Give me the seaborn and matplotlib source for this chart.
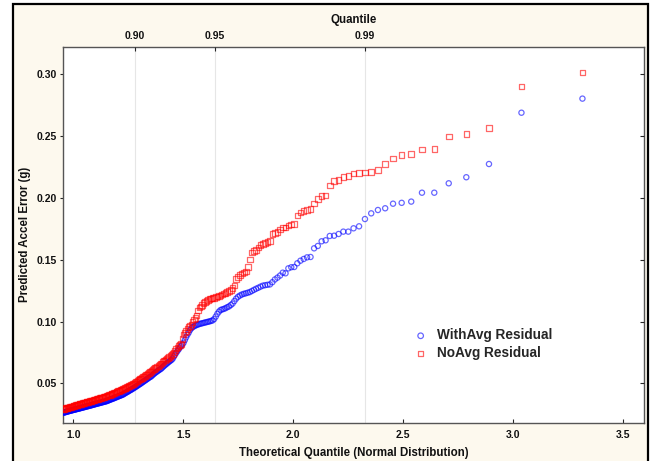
import matplotlib
matplotlib.use("Agg")
import matplotlib.pyplot as plt
import seaborn as sns
import pandas as pd
from statistics import NormalDist
from matplotlib.patches import Rectangle

# ---- data (upper tail of a normal Q-Q plot, sorted descending by rank) ----
N_TOTAL = 1360          # sample size behind the plotting positions
series_names = ["WithAvg Residual", "NoAvg Residual"]

with_avg = [
    0.2803, 0.2689, 0.2274, 0.2167, 0.2118, 0.2042, 0.2042, 0.1970, 0.1960, 0.1953,
    0.1916, 0.1902, 0.1875, 0.1829, 0.1770, 0.1754, 0.1727, 0.1727, 0.1708, 0.1694,
    0.1692, 0.1657, 0.1649, 0.1611, 0.1592, 0.1522, 0.1519, 0.1506, 0.1492, 0.1471,
    0.1441, 0.1439, 0.1430, 0.1390, 0.1395, 0.1372, 0.1355, 0.1340, 0.1318, 0.1300,
    0.1297, 0.1294, 0.1290, 0.1282, 0.1273, 0.1265, 0.1256, 0.1247, 0.1238, 0.1233,
    0.1228, 0.1224, 0.1218, 0.1210, 0.1200, 0.1185, 0.1165, 0.1145, 0.1133, 0.1122,
    0.1116, 0.1108, 0.1102, 0.1098, 0.1093, 0.1080, 0.1062, 0.1040, 0.1020, 0.1009,
    0.1005, 0.1001, 0.0998, 0.0995, 0.0992, 0.0989, 0.0986, 0.0983, 0.0980, 0.0976,
    0.0972, 0.0967, 0.0961, 0.0955, 0.0945, 0.0930, 0.0910, 0.0893, 0.0872, 0.0850,
    0.0828, 0.0815, 0.0803, 0.0790, 0.0775, 0.0762, 0.0748, 0.0733, 0.0717, 0.0700,
    0.0690, 0.0683, 0.0676, 0.0669, 0.0661, 0.0654, 0.0646, 0.0639, 0.0630, 0.0621,
    0.0615, 0.0609, 0.0603, 0.0597, 0.0591, 0.0585, 0.0578, 0.0571, 0.0563, 0.0555,
    0.0551, 0.0546, 0.0540, 0.0534, 0.0529, 0.0523, 0.0518, 0.0512, 0.0507, 0.0501,
    0.0496, 0.0491, 0.0486, 0.0481, 0.0476, 0.0471, 0.0466, 0.0462, 0.0457, 0.0452,
    0.0448, 0.0444, 0.0440, 0.0435, 0.0431, 0.0427, 0.0423, 0.0419, 0.0414, 0.0410,
    0.0407, 0.0404, 0.0401, 0.0399, 0.0396, 0.0393, 0.0390, 0.0388, 0.0385, 0.0382,
    0.0379, 0.0377, 0.0374, 0.0372, 0.0369, 0.0367, 0.0364, 0.0361, 0.0359, 0.0356,
    0.0354, 0.0353, 0.0351, 0.0349, 0.0348, 0.0346, 0.0344, 0.0343, 0.0341, 0.0339,
    0.0338, 0.0336, 0.0335, 0.0333, 0.0331, 0.0330, 0.0328, 0.0326, 0.0325, 0.0323,
    0.0321, 0.0320, 0.0318, 0.0317, 0.0315, 0.0314, 0.0312, 0.0311, 0.0309, 0.0308,
    0.0306, 0.0305, 0.0303, 0.0302, 0.0300, 0.0299, 0.0297, 0.0296, 0.0294, 0.0293,
    0.0292, 0.0290, 0.0289, 0.0287, 0.0286, 0.0285, 0.0283, 0.0282, 0.0280, 0.0279,
    0.0278, 0.0276, 0.0275, 0.0273, 0.0272, 0.0270, 0.0269, 0.0267, 0.0266, 0.0264,
    0.0263, 0.0262,
]

no_avg = [
    0.3016, 0.2900, 0.2566, 0.2515, 0.2495, 0.2396, 0.2390, 0.2353, 0.2347, 0.2320,
    0.2274, 0.2226, 0.2210, 0.2207, 0.2201, 0.2196, 0.2177, 0.2169, 0.2145, 0.2137,
    0.2102, 0.2021, 0.2015, 0.1989, 0.1956, 0.1908, 0.1902, 0.1896, 0.1880, 0.1859,
    0.1789, 0.1786, 0.1775, 0.1762, 0.1760, 0.1745, 0.1725, 0.1714, 0.1710, 0.1650,
    0.1643, 0.1635, 0.1627, 0.1619, 0.1600, 0.1580, 0.1570, 0.1560, 0.1500, 0.1440,
    0.1405, 0.1395, 0.1390, 0.1378, 0.1362, 0.1345, 0.1290, 0.1270, 0.1255, 0.1245,
    0.1237, 0.1232, 0.1228, 0.1220, 0.1210, 0.1205, 0.1202, 0.1198, 0.1192, 0.1188,
    0.1186, 0.1184, 0.1174, 0.1166, 0.1158, 0.1150, 0.1135, 0.1122, 0.1115, 0.1090,
    0.1050, 0.1030, 0.1015, 0.0995, 0.0975, 0.0965, 0.0955, 0.0940, 0.0925, 0.0912,
    0.0895, 0.0860, 0.0820, 0.0810, 0.0800, 0.0790, 0.0780, 0.0765, 0.0750, 0.0737,
    0.0728, 0.0721, 0.0714, 0.0707, 0.0700, 0.0693, 0.0686, 0.0679, 0.0671, 0.0662,
    0.0655, 0.0649, 0.0642, 0.0636, 0.0629, 0.0623, 0.0617, 0.0610, 0.0604, 0.0597,
    0.0591, 0.0585, 0.0579, 0.0573, 0.0567, 0.0561, 0.0556, 0.0550, 0.0545, 0.0539,
    0.0534, 0.0530, 0.0525, 0.0520, 0.0515, 0.0510, 0.0505, 0.0500, 0.0496, 0.0491,
    0.0487, 0.0483, 0.0479, 0.0475, 0.0471, 0.0468, 0.0464, 0.0460, 0.0457, 0.0453,
    0.0450, 0.0447, 0.0444, 0.0441, 0.0438, 0.0436, 0.0433, 0.0430, 0.0427, 0.0424,
    0.0421, 0.0418, 0.0415, 0.0413, 0.0410, 0.0407, 0.0405, 0.0402, 0.0400, 0.0397,
    0.0395, 0.0393, 0.0391, 0.0389, 0.0387, 0.0385, 0.0383, 0.0381, 0.0379, 0.0377,
    0.0375, 0.0373, 0.0371, 0.0369, 0.0368, 0.0366, 0.0364, 0.0362, 0.0361, 0.0359,
    0.0357, 0.0356, 0.0354, 0.0352, 0.0351, 0.0349, 0.0348, 0.0346, 0.0344, 0.0342,
    0.0341, 0.0339, 0.0338, 0.0336, 0.0334, 0.0333, 0.0331, 0.0329, 0.0328, 0.0326,
    0.0324, 0.0323, 0.0321, 0.0320, 0.0318, 0.0316, 0.0314, 0.0313, 0.0311, 0.0309,
    0.0308, 0.0306, 0.0305, 0.0303, 0.0302, 0.0300, 0.0299, 0.0297, 0.0296, 0.0294,
    0.0293, 0.0291,
]

x_ticks = [1.0, 1.5, 2.0, 2.5, 3.0, 3.5]
x_tick_labels = ["1.0", "1.5", "2.0", "2.5", "3.0", "3.5"]
y_ticks = [0.05, 0.10, 0.15, 0.20, 0.25, 0.30]
y_tick_labels = ["0.05", "0.10", "0.15", "0.20", "0.25", "0.30"]
top_quantiles = [0.90, 0.95, 0.99]
top_labels = ["0.90", "0.95", "0.99"]

# ---- theoretical quantiles (Blom plotting positions) ----
nd = NormalDist()
def theo(rank):
    return nd.inv_cdf(1 - (rank - 0.375) / (N_TOTAL + 0.25))

rows = []
for name, vals in zip(series_names, [with_avg, no_avg]):
    for i, v in enumerate(vals):
        rows.append({"q": theo(i + 1), "err": v, "series": name})
df = pd.DataFrame(rows)

# ---- styling ----
sns.set_theme(style="white")
plt.rcParams["font.family"] = ["Liberation Sans", "DejaVu Sans"]
plt.rcParams["font.weight"] = "bold"

CREAM = "#FDF9EE"
TXT = "#111111"
fig = plt.figure(figsize=(6.5, 4.61), dpi=100, facecolor="white")
fig.patches.append(Rectangle((13 / 650, -0.01), (648 - 13) / 650, 1 - 4 / 461 + 0.01,
                             transform=fig.transFigure, facecolor=CREAM,
                             edgecolor="black", linewidth=1.6, zorder=-10))

ax = fig.add_axes([62.7 / 650, 1 - 423 / 461, (644 - 62.7) / 650, (423 - 46.7) / 461])
ax.set_facecolor("white")

xmin, xmax = 0.952, 3.594
ymin, ymax = 0.0179, 0.3223

# quantile guide lines
for q in top_quantiles:
    ax.axvline(nd.inv_cdf(q), color="#e6e6e6", lw=0.8, zorder=0)

colors = {"WithAvg Residual": (0.0, 0.0, 1.0, 0.6), "NoAvg Residual": (1.0, 0.0, 0.0, 0.6)}
markers = {"WithAvg Residual": "o", "NoAvg Residual": "s"}
sizes = {"WithAvg Residual": 14, "NoAvg Residual": 16}
for name in series_names:
    sub = df[df["series"] == name]
    sns.scatterplot(data=sub, x="q", y="err", ax=ax, marker=markers[name],
                    color=colors[name], facecolors="none", edgecolor=colors[name],
                    s=sizes[name], linewidth=0.9, label=name, zorder=3)

ax.set_xlim(xmin, xmax)
ax.set_ylim(ymin, ymax)
ax.set_xticks(x_ticks)
ax.set_xticklabels(x_tick_labels)
ax.set_yticks(y_ticks)
ax.set_yticklabels(y_tick_labels)
ax.set_xlabel("Theoretical Quantile (Normal Distribution)", fontsize=8.3,
              fontweight="bold", color=TXT, labelpad=5)
ax.set_ylabel("Predicted Accel Error (g)", fontsize=8.3, fontweight="bold", color=TXT)
ax.yaxis.set_label_coords(-0.055, 0.5)
ax.tick_params(axis="x", direction="in", length=3, width=0.8, labelsize=7.5,
               labelcolor=TXT, pad=5, top=False)
ax.tick_params(axis="y", direction="out", length=2, width=0.8, labelsize=7.5,
               labelcolor=TXT, pad=2, right=False)
for lab in ax.get_xticklabels() + ax.get_yticklabels():
    lab.set_fontweight("bold")
for sp in ax.spines.values():
    sp.set_color("#555555")
    sp.set_linewidth(1.0)

# right-side inward ticks
ax3 = ax.twinx()
ax3.set_ylim(ymin, ymax)
ax3.set_yticks(y_ticks)
ax3.set_yticklabels([])
ax3.tick_params(axis="y", direction="in", length=3, width=0.8)
for sp in ax3.spines.values():
    sp.set_visible(False)

# top quantile axis
ax2 = ax.twiny()
ax2.set_xlim(xmin, xmax)
ax2.set_xticks([nd.inv_cdf(q) for q in top_quantiles])
ax2.set_xticklabels(top_labels, fontweight="bold")
ax2.tick_params(axis="x", direction="in", length=3, width=0.8, labelsize=7.5,
                labelcolor=TXT, pad=4)
ax2.set_xlabel("Quantile", fontsize=8.3, fontweight="bold", color=TXT, labelpad=6)
for sp in ax2.spines.values():
    sp.set_visible(False)

leg = ax.legend(loc="upper left", bbox_to_anchor=(0.583, 0.266), frameon=False,
                handletextpad=0.2, labelspacing=0.28, borderaxespad=0,
                prop={"weight": "bold", "size": 9.8})
for h in leg.legend_handles:
    h.set_sizes([16])

fig.savefig("out.png", dpi=100, facecolor=fig.get_facecolor())
